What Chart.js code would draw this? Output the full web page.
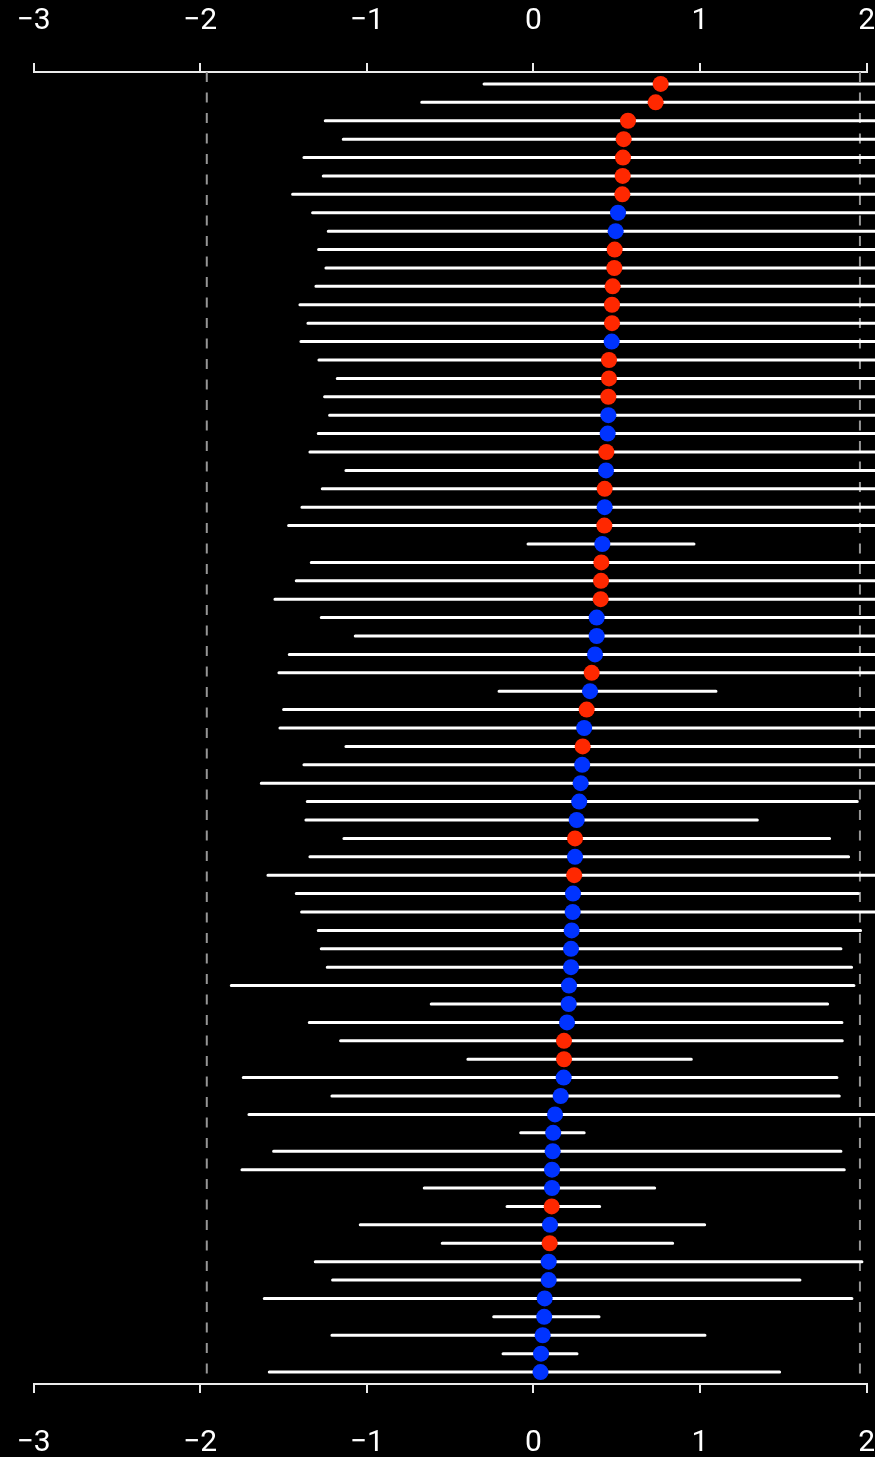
<!DOCTYPE html>
<html>
<head>
<meta charset="utf-8">
<script src="https://cdn.jsdelivr.net/npm/chart.js@4/dist/chart.umd.min.js"></script>
<style>
  html, body { margin: 0; padding: 0; background: #000; }
  #wrap { width: 875px; height: 1457px; }
</style>
</head>
<body>
<div id="wrap"><canvas id="c" width="875" height="1457"></canvas></div>
<script>
// Point estimates, sorted from largest (top row) to smallest (bottom row)
const estimates = [
  0.764, 0.734, 0.568, 0.542, 0.538, 0.536, 0.534, 0.508, 0.494, 0.488,
  0.486, 0.476, 0.472, 0.472, 0.470, 0.454, 0.454, 0.450, 0.450, 0.446,
  0.438, 0.436, 0.428, 0.428, 0.426, 0.414, 0.408, 0.406, 0.404, 0.380,
  0.380, 0.370, 0.350, 0.340, 0.320, 0.305, 0.296, 0.293, 0.284, 0.275,
  0.260, 0.250, 0.250, 0.245, 0.238, 0.236, 0.230, 0.226, 0.226, 0.214,
  0.212, 0.202, 0.184, 0.184, 0.182, 0.164, 0.130, 0.119, 0.116, 0.112,
  0.112, 0.110, 0.100, 0.098, 0.092, 0.092, 0.068, 0.065, 0.056, 0.046,
  0.043
];

// Lower interval bounds
const lowerBounds = [
  -0.296, -0.670, -1.249, -1.141, -1.377, -1.261, -1.445, -1.325, -1.231, -1.289,
  -1.245, -1.305, -1.401, -1.353, -1.395, -1.287, -1.177, -1.253, -1.223, -1.291,
  -1.341, -1.125, -1.267, -1.389, -1.469, -0.032, -1.333, -1.423, -1.551, -1.273,
  -1.069, -1.465, -1.527, -0.206, -1.499, -1.521, -1.125, -1.377, -1.633, -1.357,
  -1.365, -1.137, -1.341, -1.593, -1.423, -1.391, -1.291, -1.273, -1.237, -1.813,
  -0.613, -1.345, -1.157, -0.393, -1.741, -1.209, -1.707, -0.076, -1.559, -1.749,
  -0.655, -0.158, -1.039, -0.547, -1.309, -1.205, -1.615, -0.238, -1.209, -0.182,
  -1.585
];

// Upper interval bounds
const upperBounds = [
  2.40, 2.60, 2.70, 2.50, 2.90, 2.60, 2.80, 2.60, 2.50, 2.60,
  2.50, 2.60, 2.70, 2.60, 2.70, 2.50, 2.40, 2.50, 2.50, 2.50,
  2.60, 2.30, 2.50, 2.60, 2.70, 0.964, 2.50, 2.60, 2.70, 2.40,
  2.20, 2.60, 2.60, 1.096, 2.50, 2.40, 2.20, 2.30, 2.40, 1.944,
  1.344, 1.778, 1.892, 2.20, 1.950, 2.10, 1.964, 1.846, 1.910, 1.924,
  1.766, 1.852, 1.854, 0.948, 1.822, 1.836, 2.10, 0.305, 1.846, 1.866,
  0.728, 0.398, 1.028, 0.836, 1.972, 1.600, 1.912, 0.394, 1.030, 0.262,
  1.478
];

// Group of each row: 'r' or 'b'
const groups = [
  'r','r','r','r','r','r','r','b','b','r',
  'r','r','r','r','b','r','r','r','b','b',
  'r','b','r','b','r','b','r','r','r','b',
  'b','b','r','b','r','b','r','b','b','b',
  'b','r','b','r','b','b','b','b','b','b',
  'b','b','r','r','b','b','b','b','b','b',
  'b','r','b','r','b','b','b','b','b','b',
  'b'
];

const groupColors = { r: 'rgb(255,40,0)', b: 'rgb(0,51,255)' };

// Axis ticks and reference lines
const xTicks = [-3, -2, -1, 0, 1, 2];
const refLines = [-1.96, 1.96];

const rowCount = estimates.length;
const yMin = 0.35;
const yMax = rowCount + 0.65;

const pointData = estimates.map((v, i) => ({ x: v, y: i + 1 }));

const barData = [];
lowerBounds.forEach((lo, i) => {
  barData.push({ x: lo, y: i + 1 });
  barData.push({ x: upperBounds[i], y: i + 1 });
  barData.push({ x: null, y: null });
});

const refData = [];
refLines.forEach(v => {
  refData.push({ x: v, y: yMin });
  refData.push({ x: v, y: yMax });
  refData.push({ x: null, y: null });
});

const fmt = v => (v < 0 ? '\u2212' + Math.abs(v) : String(v));
const axisColor = 'rgb(235,235,235)';
const tickFont = { family: 'Roboto', size: 30 };

function xAxis(position, height, pad) {
  return {
    type: 'linear',
    position: position,
    min: xTicks[0],
    max: xTicks[xTicks.length - 1],
    afterBuildTicks: s => { s.ticks = xTicks.map(v => ({ value: v })); },
    afterFit: s => {
      s.height = height;
      s.paddingLeft = 0;
      s.paddingRight = 0;
    },
    grid: {
      drawOnChartArea: false,
      drawTicks: true,
      tickLength: 9,
      color: axisColor,
      lineWidth: 2
    },
    border: { display: true, color: axisColor, width: 2 },
    ticks: {
      color: '#fff',
      font: tickFont,
      padding: pad,
      maxRotation: 0,
      autoSkip: false,
      callback: v => fmt(v)
    }
  };
}

new Chart(document.getElementById('c'), {
  type: 'scatter',
  data: {
    datasets: [
      {
        data: pointData,
        pointRadius: 8,
        pointHoverRadius: 8,
        pointBorderWidth: 0,
        pointBackgroundColor: groups.map(g => groupColors[g]),
        showLine: false,
        clip: false,
        order: 0
      },
      {
        data: barData,
        showLine: true,
        spanGaps: false,
        borderColor: '#fff',
        borderWidth: 3,
        borderCapStyle: 'round',
        pointRadius: 0,
        clip: false,
        order: 1
      },
      {
        data: refData,
        showLine: true,
        spanGaps: false,
        borderColor: 'rgb(150,150,150)',
        borderWidth: 2,
        borderDash: [10, 10.5],
        pointRadius: 0,
        clip: false,
        order: 2
      }
    ]
  },
  options: {
    responsive: false,
    devicePixelRatio: 1,
    animation: false,
    layout: { padding: { left: 33.5, right: 8.4, top: 0, bottom: 0 } },
    plugins: { legend: { display: false }, tooltip: { enabled: false } },
    scales: {
      x: xAxis('bottom', 73, 32),
      x2: xAxis('top', 72, 24),
      y: { type: 'linear', display: false, reverse: true, min: yMin, max: yMax }
    }
  }
});
</script>
</body>
</html>
